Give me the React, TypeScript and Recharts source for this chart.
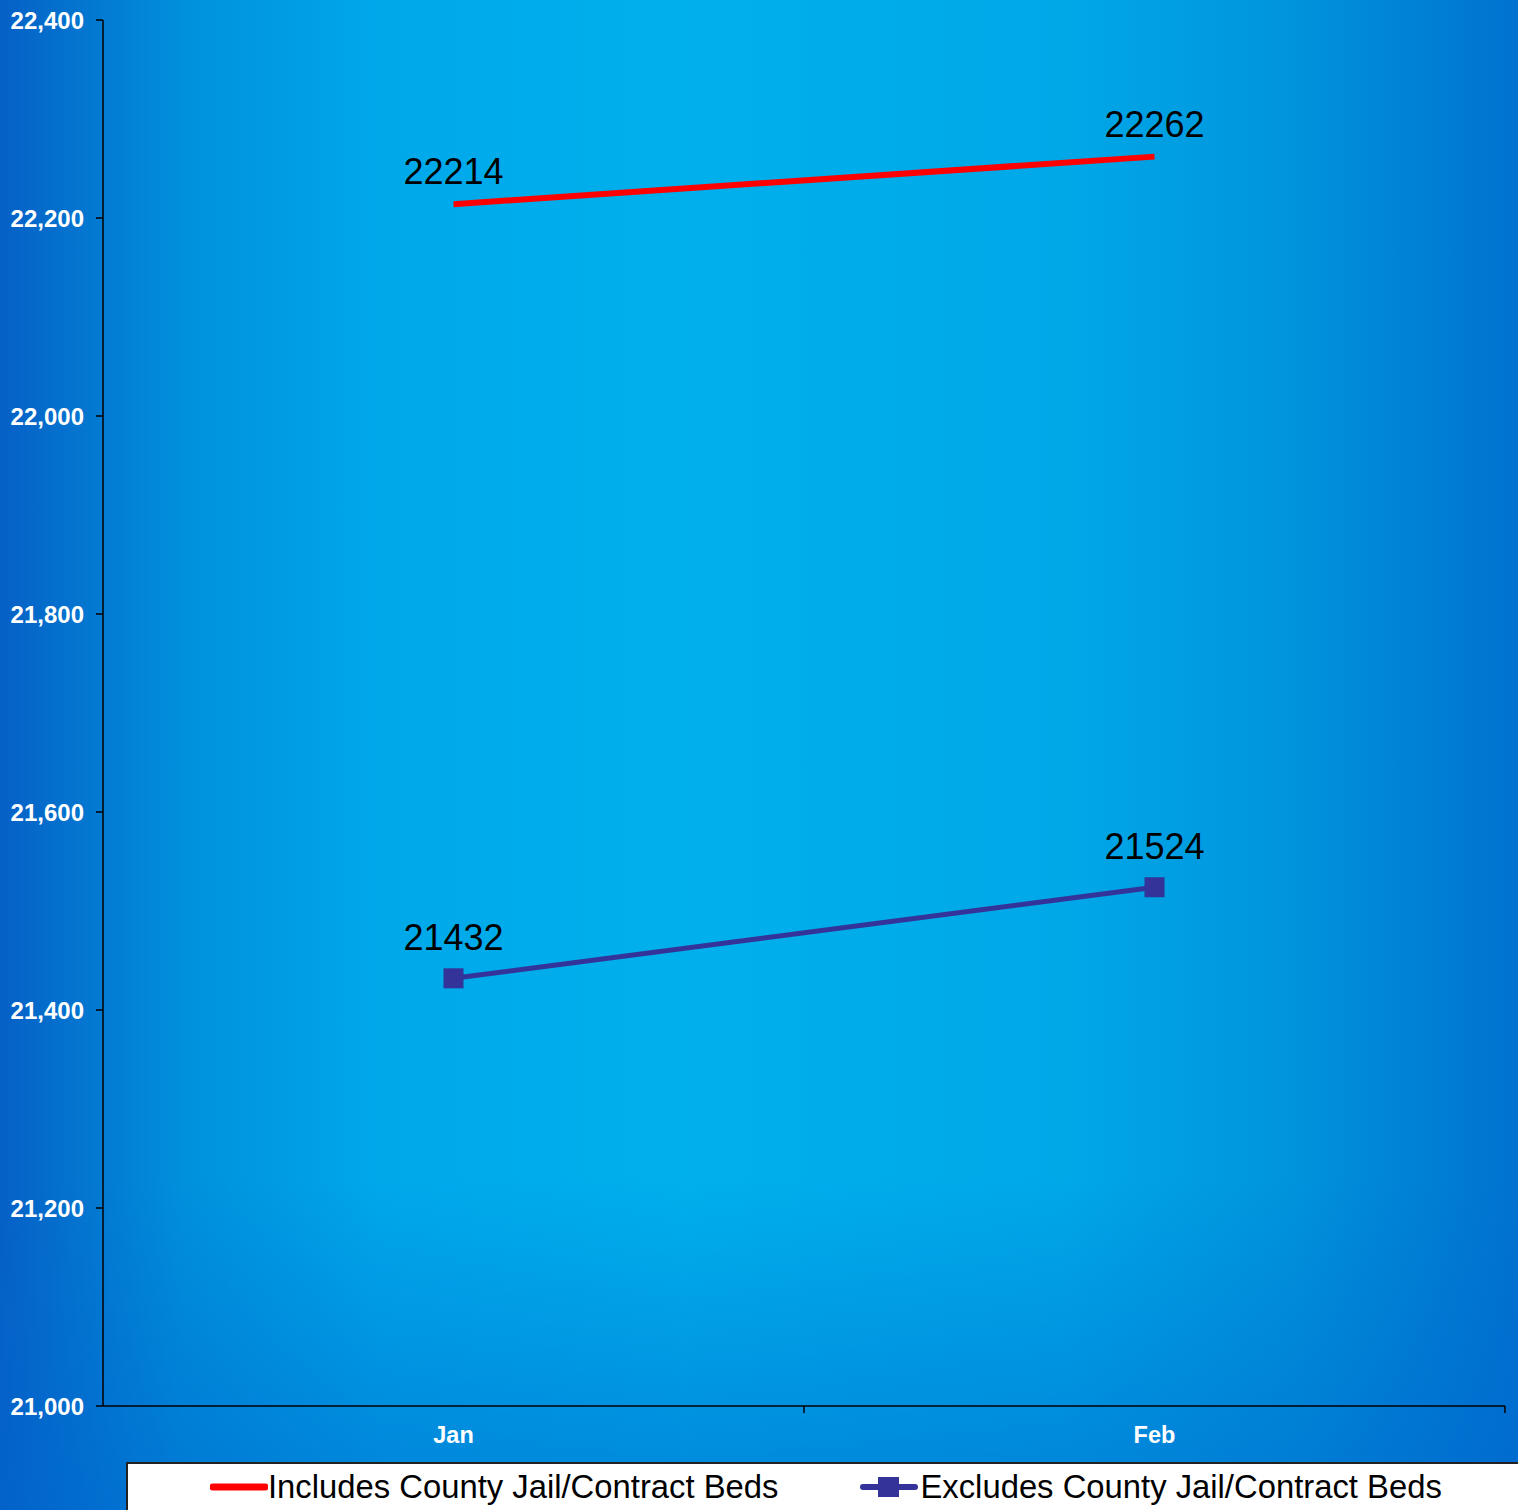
import React from 'react'
import { LineChart, Line, XAxis, YAxis, Legend, LabelList } from 'recharts'

const months = ['Jan', 'Feb']
const includesBeds = [22214, 22262]
const excludesBeds = [21432, 21524]
const yTicks = [21000, 21200, 21400, 21600, 21800, 22000, 22200, 22400]

const data = months.map((m, i) => ({ name: m, includes: includesBeds[i], excludes: excludesBeds[i] }))

const W = 1518
const H = 1510
const LEFT = 103
const RIGHT = 13
const PLOT_W = W - LEFT - RIGHT
const HALF_BAND = PLOT_W / months.length / 2

const font = '"Liberation Sans", Arial, sans-serif'

const MonthTick = (props: any) => {
    const { x, y, payload } = props
    const axisY = y - 6
    return (
        <g>
            <line x1={x + HALF_BAND} x2={x + HALF_BAND} y1={axisY} y2={axisY + 7} stroke="#000" strokeWidth={1.5} />
            <text x={x} y={axisY + 37} textAnchor="middle" fill="#fff" fontWeight="bold" fontSize={23.5} fontFamily={font}>
                {payload.value}
            </text>
        </g>
    )
}

const SquareDot = (props: any) => {
    const { cx, cy } = props
    if (cx == null || cy == null) return null
    return <rect key={`sq-${cx}`} x={cx - 10} y={cy - 10} width={20} height={20} fill="#333399" />
}

const LegendBox = () => (
    <div
        style={{
            background: '#fff',
            borderTop: '2px solid #222',
            borderLeft: '2px solid #222',
            height: 46,
            display: 'flex',
            alignItems: 'center',
            fontFamily: font,
            fontSize: 32.8,
            color: '#000',
        }}
    >
        <div style={{ display: 'flex', alignItems: 'center', marginLeft: 82 }}>
            <svg width={58} height={20}>
                <line x1={3} x2={55} y1={10} y2={10} stroke="#ff0000" strokeWidth={7} strokeLinecap="round" />
            </svg>
            <span>Includes County Jail/Contract Beds</span>
        </div>
        <div style={{ display: 'flex', alignItems: 'center', marginLeft: 82 }}>
            <svg width={60} height={24}>
                <line x1={3} x2={55} y1={12} y2={12} stroke="#333399" strokeWidth={6} strokeLinecap="round" />
                <rect x={18} y={2} width={21} height={20} fill="#333399" />
            </svg>
            <span>Excludes County Jail/Contract Beds</span>
        </div>
    </div>
)

export default function App() {
    return (
        <div
            style={{
                position: 'absolute',
                top: 0,
                left: 0,
                width: W,
                height: H,
                background:
                    'linear-gradient(to bottom, rgba(0,90,200,0) 0%, rgba(0,90,200,0) 78%, rgba(0,100,205,0.55) 100%), linear-gradient(to right, #0660c6 0%, #0090dc 12%, #00a8ea 25%, #00b0ec 45%, #00a8e8 70%, #0094dc 85%, #0072d0 100%)',
            }}
        >
            <LineChart width={W} height={H} data={data} margin={{ top: 20, right: RIGHT, bottom: 0, left: 0 }}>
                <XAxis
                    dataKey="name"
                    padding={{ left: HALF_BAND, right: HALF_BAND }}
                    stroke="#000"
                    strokeWidth={1.5}
                    tickLine={false}
                    tickSize={6}
                    tickMargin={0}
                    height={56}
                    tick={<MonthTick />}
                />
                <YAxis
                    width={LEFT}
                    domain={[21000, 22400]}
                    ticks={yTicks}
                    interval={0}
                    stroke="#000"
                    strokeWidth={1.5}
                    tickSize={7}
                    tickMargin={12}
                    tick={{ fill: '#fff', fontWeight: 'bold', fontSize: 24, fontFamily: font }}
                    tickFormatter={(v) => v.toLocaleString('en-US')}
                    allowDataOverflow
                />
                <Legend
                    verticalAlign="bottom"
                    height={48}
                    wrapperStyle={{ left: 126, width: W - 126, bottom: 0 }}
                    content={<LegendBox />}
                />
                <Line type="linear" dataKey="includes" stroke="#ff0000" strokeWidth={6} dot={false} isAnimationActive={false}>
                    <LabelList dataKey="includes" position="top" offset={20} fill="#000" fontSize={36} fontFamily={font} />
                </Line>
                <Line type="linear" dataKey="excludes" stroke="#333399" strokeWidth={5} dot={<SquareDot />} activeDot={false} isAnimationActive={false}>
                    <LabelList dataKey="excludes" position="top" offset={28} fill="#000" fontSize={36} fontFamily={font} />
                </Line>
            </LineChart>
        </div>
    )
}
